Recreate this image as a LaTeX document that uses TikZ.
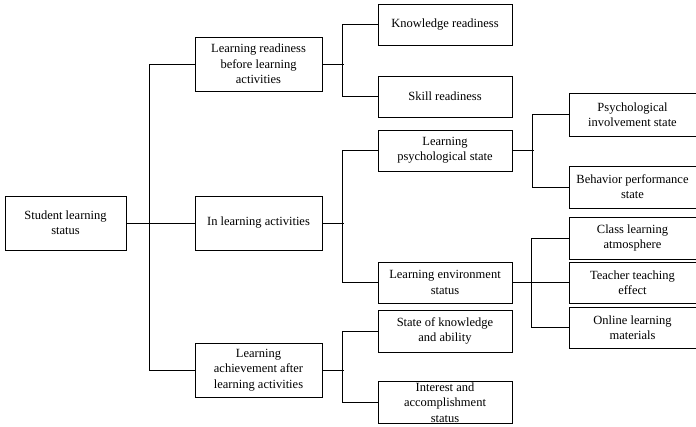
\documentclass[tikz,border=0pt]{standalone}
\usepackage{fontspec}
\setmainfont{Liberation Serif}
\usetikzlibrary{positioning}

\begin{document}
\begin{tikzpicture}[x=1pt, y=-1pt, line width=1pt,
  block/.style={draw, align=center, inner sep=1pt, font=\fontsize{12.5}{15.3}\selectfont},
  rootbox/.style={block, minimum width=121pt, minimum height=54pt},
  mainbox/.style={block, minimum width=127pt, minimum height=54pt},
  subbox/.style={block, minimum width=134pt, minimum height=41pt},
  leafbox/.style={block, minimum width=127pt, minimum height=42pt}]

  \useasboundingbox (0,0) rectangle (696,426);

  % Root
  \node[rootbox] (S) at (65.5,223) {Student learning\\status};

  % First level
  \node[mainbox] (B1) at (258.5,64) {Learning readiness\\before learning\\activities};
  \node[mainbox] (B2) at (258.5,223) {In learning activities};
  \node[mainbox] (B3) at (258.5,370) {Learning\\achievement after\\learning activities};

  % Second level
  \node[subbox] (K1) at (445,24.5) {Knowledge readiness};
  \node[subbox] (K2) at (445,96.5) {Skill readiness};
  \node[subbox] (P1) at (445,150.5) {Learning\\psychological state};
  \node[subbox] (E1) at (445,282.5) {Learning environment\\status};
  \node[subbox, minimum height=42pt] (A1) at (445,331) {State of knowledge\\and ability};
  \node[subbox] (A2) at (445,402.5) {Interest and\\accomplishment\\status};

  % Third level
  \node[leafbox, minimum height=43pt] (L1) at (632.5,114.5) {Psychological\\involvement state};
  \node[leafbox] (L2) at (632.5,187) {Behavior performance\\state};
  \node[leafbox] (L3) at (632.5,238) {Class learning\\atmosphere};
  \node[leafbox, minimum height=41pt] (L4) at (632.5,282.5) {Teacher teaching\\effect};
  \node[leafbox, minimum height=41pt] (L5) at (632.5,327.5) {Online learning\\materials};

  % Root connectors
  \draw (S.east) -- (B2.west);
  \draw (B1.west) -- ++(-45,0) |- (B3.west);

  % First level connectors
  \draw (B1.east) -- ++(21,0);
  \draw (K1.west) -- ++(-35,0) |- (K2.west);
  \draw (B2.east) -- ++(21,0);
  \draw (P1.west) -- ++(-35,0) |- (E1.west);
  \draw (B3.east) -- ++(21,0);
  \draw (A1.west) -- ++(-35,0) |- (A2.west);

  % Second level connectors
  \draw (P1.east) -- ++(21,0);
  \draw (L1.west) -- ++(-36,0) |- (L2.west);
  \draw (E1.east) -- (L4.west);
  \draw (L3.west) -- ++(-37,0) |- (L5.west);

\end{tikzpicture}
\end{document}
